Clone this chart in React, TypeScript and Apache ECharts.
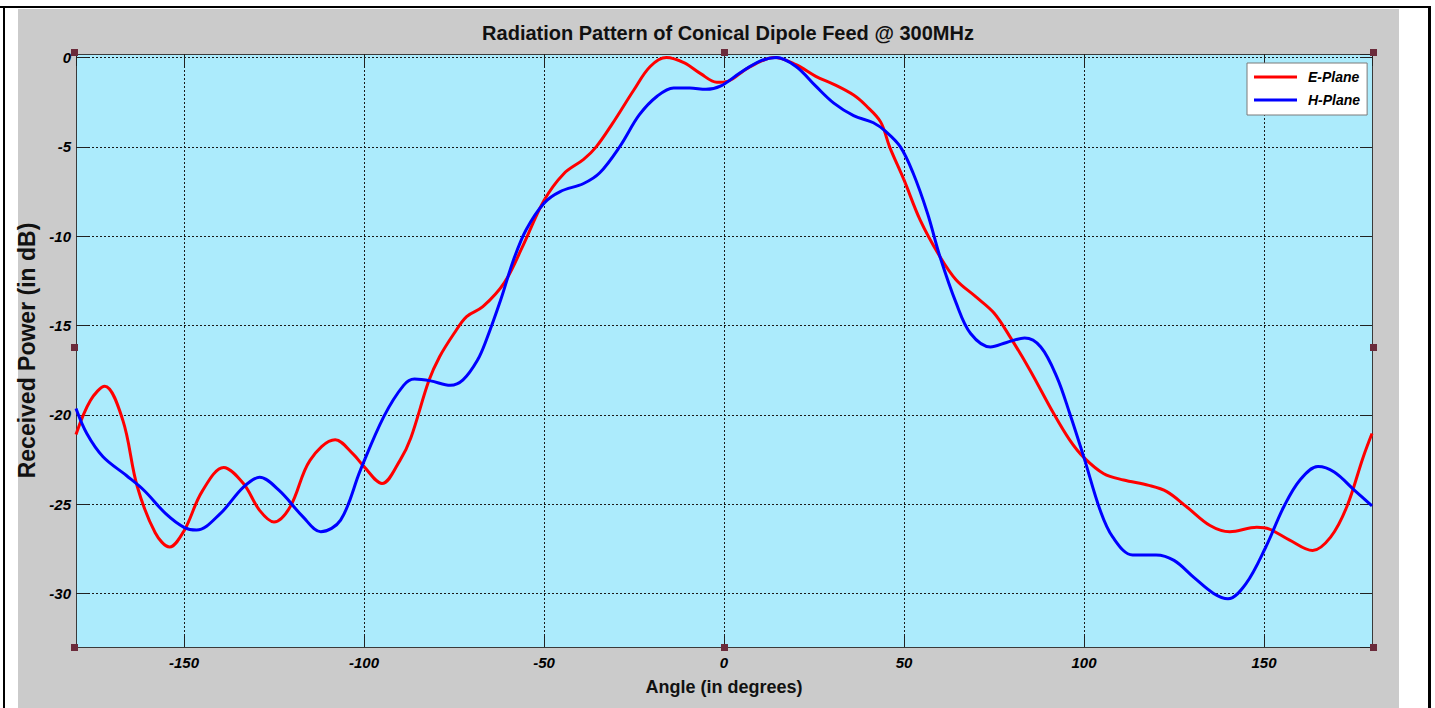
import React, { useEffect, useRef } from "react";
import * as echarts from "echarts";

const chartTitle = "Radiation Pattern of Conical Dipole Feed @ 300MHz";
const xAxisName = "Angle (in degrees)";
const yAxisName = "Received Power (in dB)";
const seriesNames = ["E-Plane", "H-Plane"];

const angleE = [
  -180, -176, -172, -167, -163, -158, -154, -150, -145, -139, -133.5, -129, -125, -120.5,
  -115, -108, -103, -100, -95, -90, -87, -82, -79, -75, -71.5, -67, -61, -56, -50, -44.5,
  -39, -35.5, -31, -25, -20.5, -16, -11, -6.5, -2, 1, 6.5, 14, 20, 25.5, 30.5, 36, 39.5,
  43.5, 46, 50, 54.5, 60, 64.5, 70, 75, 79.5, 85, 91.5, 96, 100, 105.5, 111, 118, 123,
  128.5, 135, 140.5, 148, 151.5, 157, 163.5, 168.5, 173, 177.5, 180,
];
const valueE = [
  -21.1, -19.2, -18.4, -20.3, -24.0, -26.6, -27.4, -26.5, -24.3, -22.95, -23.85, -25.35,
  -26.0, -25.15, -22.55, -21.4, -22.2, -22.9, -23.85, -22.55, -21.3, -18.1, -16.75, -15.45,
  -14.5, -13.95, -12.6, -10.6, -8.0, -6.5, -5.7, -5.0, -3.7, -1.8, -0.5, 0, -0.3, -0.9,
  -1.38, -1.33, -0.6, 0, -0.4, -1.05, -1.5, -2.1, -2.7, -3.6, -5.0, -6.85, -9.1, -11.15,
  -12.45, -13.4, -14.3, -15.65, -17.5, -19.9, -21.4, -22.4, -23.3, -23.65, -23.95, -24.3,
  -25.15, -26.2, -26.55, -26.3, -26.4, -27.0, -27.6, -26.85, -25.15, -22.4, -21.05,
];

const angleH = [
  -180, -177, -172.5, -166, -161, -155, -150, -146.5, -140, -133.5, -129, -123.5, -117,
  -112, -106.5, -101, -94.5, -89, -86, -81.5, -76, -72.5, -68.5, -66, -62, -58.5, -55, -50,
  -45.5, -39, -34.5, -29, -23.5, -18.5, -14, -9.5, -5, -1, 4.5, 10, 14.5, 20, 25.5, 30.5,
  36, 41.5, 45, 49, 52.5, 56.5, 60, 64.5, 68.5, 74, 78.5, 83.5, 88, 92.5, 96, 100, 104.5,
  108, 113.5, 120, 125, 130.5, 136, 140, 145, 150.5, 155.5, 160, 165, 169.5, 175, 180,
];
const valueH = [
  -19.65, -21.05, -22.35, -23.4, -24.25, -25.55, -26.3, -26.45, -25.55, -24.05, -23.5,
  -24.25, -25.7, -26.55, -25.9, -23.1, -20.1, -18.35, -18.0, -18.1, -18.35, -18.05, -16.95,
  -15.8, -13.55, -11.35, -9.65, -8.15, -7.5, -7.05, -6.45, -5.0, -3.2, -2.15, -1.7, -1.7,
  -1.78, -1.6, -0.85, -0.2, 0, -0.5, -1.6, -2.55, -3.25, -3.65, -4.15, -5.0, -6.45, -8.7,
  -11.15, -13.75, -15.45, -16.2, -15.95, -15.7, -16.2, -17.9, -19.9, -22.4, -25.35, -26.85,
  -27.85, -27.85, -28.15, -29.1, -30.0, -30.3, -29.45, -27.4, -25.15, -23.65, -22.9, -23.2,
  -24.2, -25.1,
];

const FONT = "'Liberation Sans', Arial, Helvetica, sans-serif";

function buildOption() {
  const tickLabel = {
    fontFamily: FONT,
    fontSize: 15,
    fontWeight: "bold" as const,
    fontStyle: "italic" as const,
    color: "#000",
  };
  const gridLine = { show: true, lineStyle: { color: "#1a1a1a", type: [2, 2] as number[], width: 1 } };
  const axisLine = { show: true, onZero: false, lineStyle: { color: "#3a3a3a", width: 1 } };
  const tick = { show: true, inside: true, length: 12, lineStyle: { color: "#222", width: 1 } };

  const handle = (x: number, y: number) => [
    { type: "rect", z: 100, shape: { x, y, width: 7, height: 7 }, style: { fill: "#6b2b3b" } },
  ];
  const handles = [
    [71, 49], [721, 49], [1370, 49], [71, 344], [1370, 344], [71, 644], [721, 644], [1370, 644],
  ].flatMap(([x, y]) => handle(x, y));

  return {
    animation: false,
    backgroundColor: "#ffffff",
    title: {
      text: chartTitle,
      left: 723,
      textAlign: "center",
      top: 18,
      textStyle: { fontFamily: FONT, fontSize: 20, fontWeight: "bold", color: "#111" },
    },
    legend: {
      orient: "vertical",
      left: 1247,
      top: 63,
      data: seriesNames,
      backgroundColor: "#ffffff",
      borderColor: "#7a7a7a",
      borderWidth: 1,
      borderRadius: 0,
      padding: [7, 7, 8, 7],
      itemGap: 9,
      itemWidth: 43,
      itemHeight: 3,
      icon: "rect",
      textStyle: {
        fontFamily: FONT,
        fontSize: 14,
        fontWeight: "bold",
        fontStyle: "italic",
        color: "#000",
        padding: [0, 0, 0, 6],
      },
    },
    grid: {
      left: 76,
      right: 63,
      top: 54,
      bottom: 61,
      show: true,
      backgroundColor: "#acebfc",
      borderWidth: 0,
    },
    graphic: [
      { type: "rect", z: -10, silent: true, shape: { x: 18, y: 9, width: 1381, height: 699 }, style: { fill: "#cbcbcb" } },
      { type: "rect", z: -9, silent: true, shape: { x: 0, y: 6, width: 1431, height: 2 }, style: { fill: "#000" } },
      { type: "rect", z: -9, silent: true, shape: { x: 3, y: 6, width: 2, height: 702 }, style: { fill: "#000" } },
      { type: "rect", z: -9, silent: true, shape: { x: 1428, y: 6, width: 3, height: 702 }, style: { fill: "#000" } },
      ...handles,
    ],
    xAxis: [
      {
        type: "value",
        min: -180,
        max: 180,
        minInterval: 50,
        maxInterval: 50,
        position: "bottom",
        name: xAxisName,
        nameLocation: "middle",
        nameGap: 31,
        nameTextStyle: { fontFamily: FONT, fontSize: 18, fontWeight: "bold", color: "#111" },
        axisLine,
        axisTick: tick,
        axisLabel: { ...tickLabel, margin: 8, showMinLabel: false, showMaxLabel: false },
        splitLine: gridLine,
      },
      {
        type: "value",
        min: -180,
        max: 180,
        minInterval: 50,
        maxInterval: 50,
        position: "top",
        axisLine,
        axisTick: tick,
        axisLabel: { show: false },
        splitLine: { show: false },
      },
    ],
    yAxis: [
      {
        type: "value",
        min: -33,
        max: 0.2,
        minInterval: 5,
        maxInterval: 5,
        position: "left",
        name: yAxisName,
        nameLocation: "middle",
        nameGap: 27,
        nameTextStyle: { fontFamily: FONT, fontSize: 23, fontWeight: "bold", color: "#111" },
        axisLine,
        axisTick: tick,
        axisLabel: { ...tickLabel, margin: 5, showMinLabel: false, showMaxLabel: false },
        splitLine: gridLine,
      },
      {
        type: "value",
        min: -33,
        max: 0.2,
        minInterval: 5,
        maxInterval: 5,
        position: "right",
        axisLine,
        axisTick: tick,
        axisLabel: { show: false },
        splitLine: { show: false },
      },
    ],
    series: [
      {
        name: seriesNames[0],
        type: "line",
        xAxisIndex: 0,
        yAxisIndex: 0,
        data: angleE.map((a, i) => [a, valueE[i]]),
        smooth: 0.35,
        showSymbol: false,
        lineStyle: { color: "#ff0000", width: 3 },
        itemStyle: { color: "#ff0000" },
        z: 3,
      },
      {
        name: seriesNames[1],
        type: "line",
        xAxisIndex: 0,
        yAxisIndex: 0,
        data: angleH.map((a, i) => [a, valueH[i]]),
        smooth: 0.35,
        showSymbol: false,
        lineStyle: { color: "#0000ff", width: 3 },
        itemStyle: { color: "#0000ff" },
        z: 4,
      },
    ],
  };
}

export default function App() {
  const ref = useRef<HTMLDivElement>(null);
  useEffect(() => {
    if (!ref.current) return;
    const chart = echarts.init(ref.current, null, { renderer: "svg" });
    chart.setOption(buildOption() as any);
    return () => chart.dispose();
  }, []);
  return (
    <div
      ref={ref}
      style={{ position: "fixed", left: 0, top: 0, width: 1435, height: 708, background: "#fff" }}
    />
  );
}
